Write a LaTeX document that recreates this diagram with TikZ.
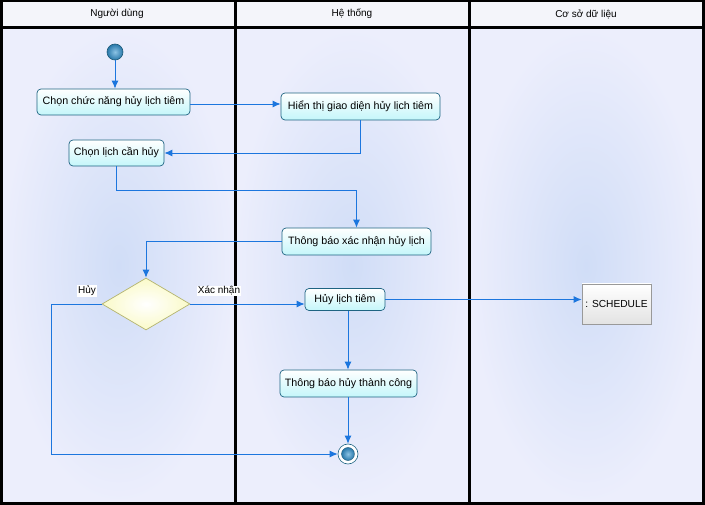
\documentclass[tikz,border=0pt]{standalone}
\usepackage{fontspec}
\setmainfont{Liberation Sans}
\usetikzlibrary{arrows.meta,shapes.geometric,calc}
\definecolor{flow}{RGB}{28,118,222}
\definecolor{actb}{RGB}{30,100,130}
\definecolor{actf}{RGB}{196,246,250}
\definecolor{lanein}{RGB}{208,221,247}
\definecolor{laneout}{RGB}{236,238,252}
\definecolor{headf}{RGB}{244,245,250}
\definecolor{decf}{RGB}{250,250,200}
\definecolor{decb}{RGB}{180,180,110}
\definecolor{ballin}{RGB}{140,195,228}
\definecolor{ballout}{RGB}{40,120,170}
\definecolor{ballb}{RGB}{30,90,120}
\begin{document}
\begin{tikzpicture}[x=1pt,y=-1pt,font=\fontsize{10.7}{12}\selectfont,
  act/.style={draw=actb,rounded corners=4pt,top color=white,bottom color=actf,line width=0.7pt,inner sep=0pt},
  flowline/.style={draw=flow,line width=0.9pt,-{Latex[length=8pt,width=7pt]}},
  lanebg/.style={inner color=lanein,outer color=laneout},
  ballstyle/.style={circle,draw=ballb,inner color=ballin,outer color=ballout,inner sep=0pt},
  sep/.style={line width=3pt,black},
  lbl/.style={font=\fontsize{10}{11}\selectfont}]
\useasboundingbox (0,0) rectangle (705,505);
% backgrounds
\fill[headf] (0,0) rectangle (705,27);
\shade[lanebg] (2,28) rectangle (235,503);
\shade[lanebg] (235,28) rectangle (469,503);
\shade[lanebg] (469,28) rectangle (703,503);
% lane lines
\draw[sep] (1.5,0) -- (1.5,503.5) -- (703.5,503.5) -- (703.5,0);
\draw[line width=2pt] (0,1) -- (705,1);
\draw[sep] (0,27.5) -- (705,27.5);
\draw[sep] (235.5,0) -- (235.5,505);
\draw[sep] (469.5,0) -- (469.5,505);
% headers
\node[lbl] (h1) at (117,14) {Người dùng};
\node[lbl] (h2) at (352,14) {Hệ thống};
\node[lbl] (h3) at (586,14) {Cơ sở dữ liệu};
% nodes
\node[ballstyle,minimum size=16pt,line width=0.6pt] (init) at (115,52) {};
\node[act,minimum width=153pt,minimum height=26pt] (a1) at (113.5,102) {Chọn chức năng hủy lịch tiêm};
\node[act,minimum width=159pt,minimum height=27pt] (a2) at (360.5,106.5) {Hiển thị giao diện hủy lịch tiêm};
\node[act,minimum width=95pt,minimum height=26pt] (a3) at (116.5,153) {Chọn lịch cần hủy};
\node[act,minimum width=149pt,minimum height=27pt] (a4) at (356.5,241.5) {Thông báo xác nhận hủy lịch};
\node[diamond,draw=decb,inner color=white,outer color=decf,minimum width=88pt,minimum height=52pt,inner sep=0pt,line width=0.7pt] (d) at (146,304) {};
\node[act,minimum width=80pt,minimum height=22pt] (a5) at (345,299.5) {Hủy lịch tiêm};
\node[act,minimum width=137pt,minimum height=27pt] (a6) at (348.5,383.5) {Thông báo hủy thành công};
\node[circle,draw=actb,fill=white,minimum size=20pt,inner sep=0pt,line width=0.6pt] (fin) at (348,454) {};
\node[ballstyle,minimum size=13pt,line width=0.4pt] (finin) at (fin) {};
\node[draw=gray!80,top color=white,bottom color=gray!22,minimum width=69pt,minimum height=40pt,inner sep=0pt,line width=0.7pt,font=\fontsize{10.2}{12}\selectfont] (sch) at (616.5,304) {: SCHEDULE};
% connectors
\draw[flowline] (init) -- (init |- a1.north);
\draw[flowline] (a1.east |- 0,104) -- (a2.west |- 0,104);
\draw[flowline] (a2.south) |- (a3.east);
\draw[flowline] (a3.south) -- ++(0,24) -| (a4.north);
\draw[flowline] (a4.west) -| (d.north);
\draw[flowline] (d.east) -- (d.east -| a5.west);
\node[lbl,fill=white,inner sep=1pt] (lx) at (219,291) {Xác nhận};
\draw[flowline] (d.west) -- ++(-50,0) |- (fin.west);
\node[lbl,fill=white,inner sep=1pt] (lh) at (87,291) {Hủy};
\draw[flowline] (a5.east) -- (a5.east -| sch.west);
\draw[flowline] (a5.south -| fin) -- (a6.north -| fin);
\draw[flowline] (a6.south -| fin) -- (fin.north);
\end{tikzpicture}
\end{document}
